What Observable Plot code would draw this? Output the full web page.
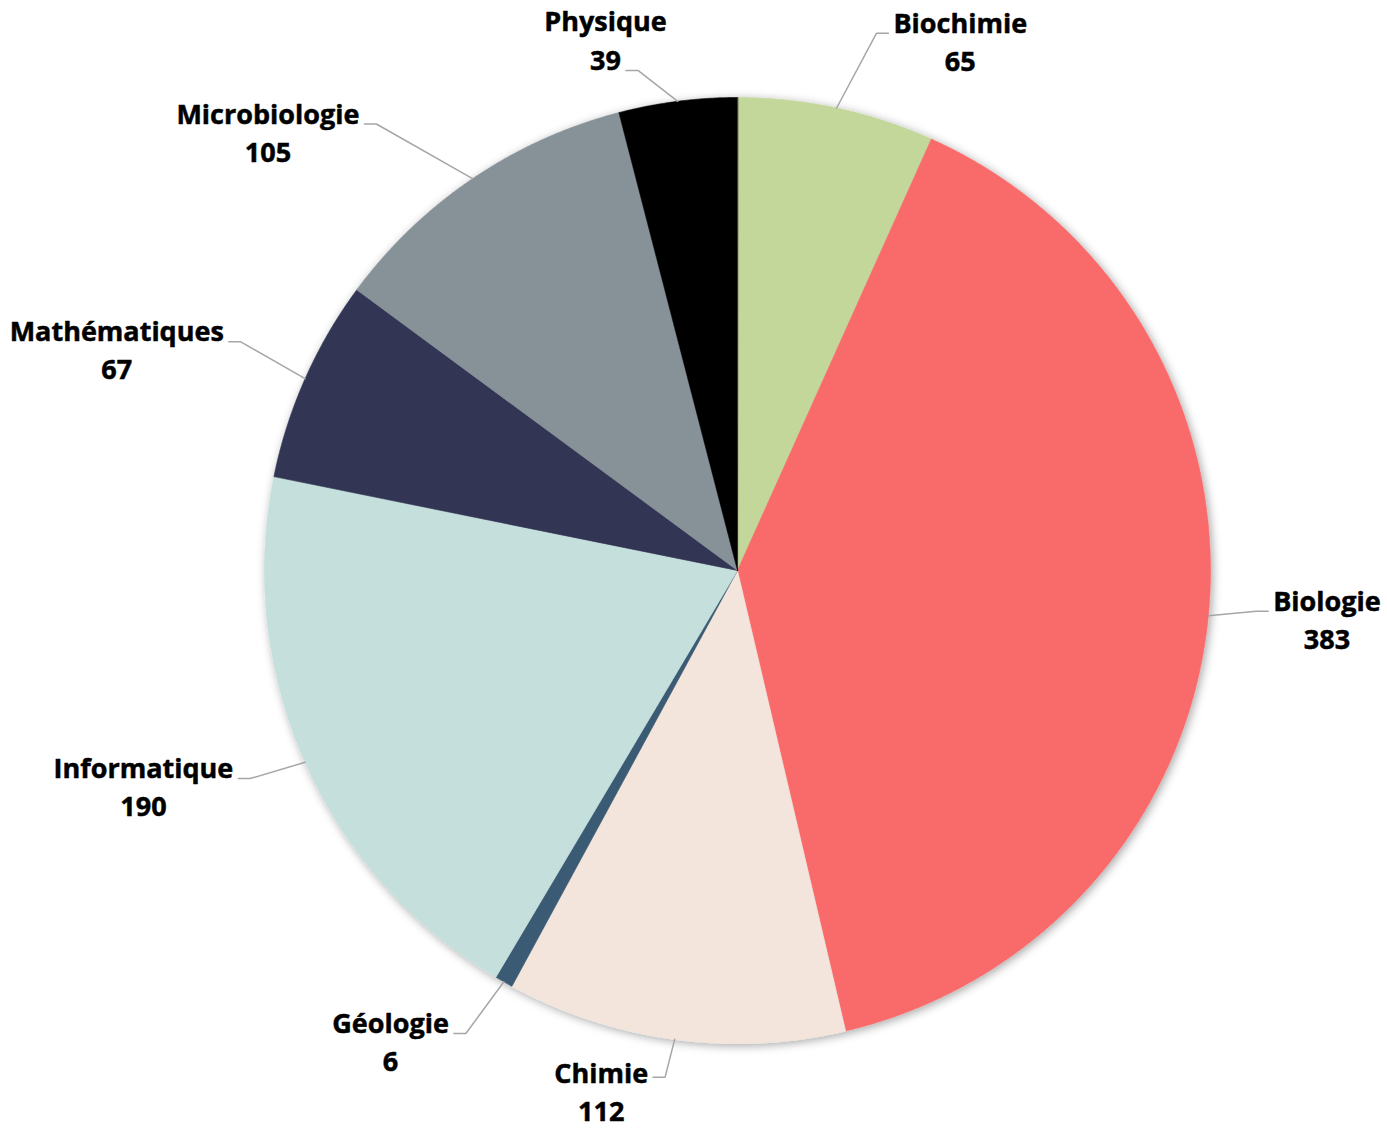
<!DOCTYPE html>
<html><head><meta charset="utf-8">
<script src="https://cdn.jsdelivr.net/npm/d3@7"></script>
<script src="https://cdn.jsdelivr.net/npm/@observablehq/plot@0.6"></script>
<style>body{margin:0;background:#fff}</style>
</head><body><div id="chart"></div>
<script>
// ---- data ----
const categories = ["Biochimie","Biologie","Chimie","Géologie","Informatique","Mathématiques","Microbiologie","Physique"];
const values = [65,383,112,6,190,67,105,39];
const colors = ["#c4d79b","#f96b6b","#f3e5dc","#3b5a73","#c5dfdc","#313453","#869198","#000000"];
// ---- label layout (angle shift from slice middle, radius factor, where the leader meets the label) ----
const labelAngleShift = [2.4,-1.0,0.5,0.8,0.8,0.8,-4.9,-4.0];
const labelRadius = [1.173,1.10,1.082,1.135,1.12,1.156,1.214,1.078];
const labelAttach = ["name","name","mid","name","name","name","name","value"];

const W=1387,H=1130,cx=737,cy=570,R=473;
const FS=27, FAM="'Open Sans', sans-serif";
const ctx=document.createElement("canvas").getContext("2d");
ctx.font=`bold ${FS}px 'Open Sans'`;

const pie=d3.pie().sort(null).startAngle(0).endAngle(2*Math.PI)(values);
const pt=(a,r)=>({x:r*Math.sin(a),y:-r*Math.cos(a)});
const slicePts=[];
pie.forEach((s,i)=>{
  slicePts.push({cat:categories[i],x:0,y:0});
  const n=Math.max(2,Math.ceil((s.endAngle-s.startAngle)/0.004));
  for(let k=0;k<=n;k++){const a=s.startAngle+(s.endAngle-s.startAngle)*k/n;slicePts.push({cat:categories[i],...pt(a,1)});}
});
const leaderPts=[],labels=[];
pie.forEach((s,i)=>{
  const mid=(s.startAngle+s.endAngle)/2;
  const ea=mid+labelAngleShift[i]*Math.PI/180;
  const arc=pt(mid,1), elbow=pt(ea,labelRadius[i]);
  const side=Math.sin(ea)>=0?1:-1;
  const end={x:elbow.x+side*12/R,y:elbow.y};
  leaderPts.push({cat:categories[i],...arc},{cat:categories[i],...elbow},{cat:categories[i],...end});
  const nameW=ctx.measureText(categories[i]).width, valW=ctx.measureText(String(values[i])).width;
  let nameY,valueY,x;
  if(labelAttach[i]==="value"){valueY=elbow.y-9/R;nameY=valueY-39/R;x=end.x+side*(5+valW/2)/R;}
  else{nameY=elbow.y-(labelAttach[i]==="mid"?3:9)/R;valueY=nameY+38/R;x=end.x+side*(5+nameW/2)/R;}
  labels.push({name:categories[i],value:String(values[i]),x,nameY,valueY});
});

const textOpts={fontSize:FS,fontWeight:"bold",fontFamily:FAM,fill:"#000",stroke:"#000",strokeWidth:0.5};
const chart=Plot.plot({
  width:W,height:H,margin:0,
  x:{domain:[-cx/R,(W-cx)/R],range:[0,W],axis:null},
  y:{domain:[-cy/R,(H-cy)/R],range:[0,H],axis:null},
  color:{domain:categories,range:colors},
  style:{fontFamily:FAM,background:"#fff"},
  marks:[
    Plot.line(slicePts,{x:"x",y:"y",z:"cat",fill:"cat",stroke:"cat",strokeWidth:0.6,curve:"linear-closed"}),
    Plot.line(leaderPts,{x:"x",y:"y",z:"cat",stroke:"#a6a6a6",strokeWidth:1.5}),
    Plot.text(labels,{x:"x",y:"nameY",text:"name",...textOpts}),
    Plot.text(labels,{x:"x",y:"valueY",text:"value",...textOpts})
  ]
});
const svg=d3.select(chart);
const defs=svg.insert("defs",":first-child");
const f=defs.append("filter").attr("id","pieShadow").attr("x","-10%").attr("y","-10%").attr("width","120%").attr("height","120%");
f.append("feDropShadow").attr("dx",2).attr("dy",2).attr("stdDeviation",5).attr("flood-color","#000").attr("flood-opacity",0.35);
svg.select('g[aria-label="line"]').attr("filter","url(#pieShadow)");
document.getElementById("chart").appendChild(chart);
</script>
</body></html>
